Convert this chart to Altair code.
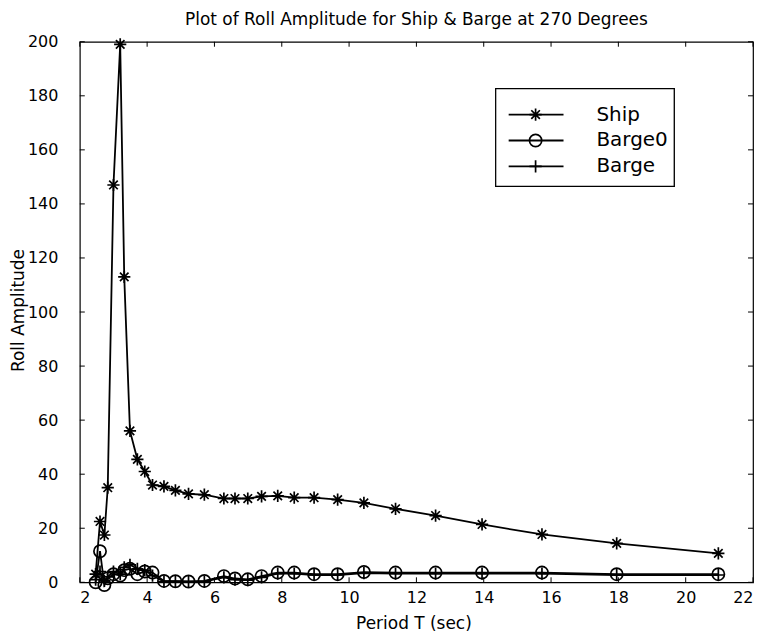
import altair as alt
import pandas as pd

# ---- data ----
periods = [2.47, 2.6, 2.73, 2.83, 3.0, 3.2, 3.32, 3.49, 3.71, 3.93, 4.16, 4.5, 4.84, 5.23, 5.7,
           6.28, 6.61, 6.99, 7.4, 7.88, 8.37, 8.96, 9.66, 10.44, 11.38, 12.57, 13.95, 15.73,
           17.95, 20.97]
ship = [3, 22.5, 17.5, 35, 147, 199, 113, 56, 45.5, 41, 36, 35.5, 34, 32.7, 32.4,
        31, 31, 31, 31.8, 32, 31.3, 31.3, 30.6, 29.4, 27.2, 24.7, 21.4, 17.7, 14.4, 10.7]
barge0 = [0, 11.5, -1, 1.5, 3, 2.5, 4.5, 5, 3, 4, 3.6, 0.5, 0.4, 0.3, 0.5,
          2.3, 1.4, 1.1, 2.3, 3.6, 3.6, 3, 3, 3.8, 3.6, 3.6, 3.6, 3.6, 3, 3]
barge = [1, 4, 0.5, 2, 4, 3, 5.5, 6.5, 5, 4.5, 2.5, 0.3, 0.3, 0.2, 0.3,
         1.8, 1.0, 0.8, 1.8, 3.2, 3.2, 2.7, 2.7, 3.4, 3.2, 3.2, 3.2, 3.2, 2.7, 2.7]
series_names = ["Ship", "Barge0", "Barge"]
x_ticks = [2, 4, 6, 8, 10, 12, 14, 16, 18, 20, 22]
y_ticks = [0, 20, 40, 60, 80, 100, 120, 140, 160, 180, 200]

rows = []
for name, vals in zip(series_names, [ship, barge0, barge]):
    for p, v in zip(periods, vals):
        rows.append({"period": p, "amp": v, "series": name})
df = pd.DataFrame(rows)
legend_df = pd.DataFrame({"series": series_names})
xt_df = pd.DataFrame({"period": x_ticks})
yt_df = pd.DataFrame({"amp": y_ticks})

FONT = "DejaVu Sans"
W, H, TK = 675, 542, 5
shape_paths = [
    "M-1,0L1,0M0,-1L0,1M-0.7,-0.7L0.7,0.7M-0.7,0.7L0.7,-0.7",
    "circle",
    "M-1,0L1,0M0,-1L0,1",
]
shape_scale = alt.Scale(domain=series_names, range=shape_paths)
xs = alt.Scale(domain=[2, 22], nice=False)
ys = alt.Scale(domain=[0, 200], nice=False)

base = alt.Chart(df)

axis_common = dict(grid=False, domain=False, ticks=False, tickSize=0,
                   labelColor="black", labelFont=FONT, labelFontSize=16,
                   titleFont=FONT, titleFontWeight="normal", titleColor="black",
                   titleFontSize=17, titleBaseline="middle")

lines = base.mark_line(color="black", strokeWidth=1.8).encode(
    x=alt.X("period:Q", scale=xs,
            axis=alt.Axis(values=x_ticks, title="Period T (sec)", labelPadding=7,
                          titleX=W / 2 - 3, titleY=41, **axis_common)),
    y=alt.Y("amp:Q", scale=ys,
            axis=alt.Axis(values=y_ticks, title="Roll Amplitude", labelPadding=22,
                          titleX=-61, titleY=H / 2 - 2, **axis_common)),
    detail="series:N",
)

points = base.mark_point(filled=False, color="black", strokeWidth=1.7, size=150, opacity=1).encode(
    x=alt.X("period:Q", scale=xs),
    y=alt.Y("amp:Q", scale=ys),
    shape=alt.Shape("series:N", scale=shape_scale, legend=None),
)

# inward ticks on all four sides (MATLAB style box)
xtb = alt.Chart(xt_df)
ytb = alt.Chart(yt_df)
tick_layers = [
    xtb.mark_rule(color="black", strokeWidth=1).encode(
        x=alt.X("period:Q", scale=xs), y=alt.value(H - TK), y2=alt.value(H)),
    xtb.mark_rule(color="black", strokeWidth=1).encode(
        x=alt.X("period:Q", scale=xs), y=alt.value(0), y2=alt.value(TK)),
    ytb.mark_rule(color="black", strokeWidth=1).encode(
        y=alt.Y("amp:Q", scale=ys), x=alt.value(0), x2=alt.value(TK)),
    ytb.mark_rule(color="black", strokeWidth=1).encode(
        y=alt.Y("amp:Q", scale=ys), x=alt.value(W - TK), x2=alt.value(W)),
]

# ---- legend box (inside plot, top right) ----
lbase = alt.Chart(legend_df)
box = lbase.mark_rect(fill="white", stroke="black", strokeWidth=1.2).encode(
    x=alt.value(417), x2=alt.value(596), y=alt.value(47), y2=alt.value(145)
)
legend_layers = [box]
for i, name in enumerate(series_names):
    yv = alt.value(73 + 26 * i)
    sub = lbase.transform_filter(alt.datum.series == name)
    legend_layers.append(sub.mark_rule(color="black", strokeWidth=1.8).encode(
        x=alt.value(430), x2=alt.value(485), y=yv))
    legend_layers.append(sub.mark_point(filled=False, color="black", strokeWidth=1.7, size=150,
                                        opacity=1, shape=shape_paths[i]).encode(
        x=alt.value(457), y=yv))
    legend_layers.append(sub.mark_text(align="left", baseline="middle", font=FONT, fontSize=20,
                                       color="black").encode(
        x=alt.value(518), y=yv, text="series:N"))

chart = alt.layer(lines, points, *tick_layers, *legend_layers).properties(
    width=W, height=H,
    title=alt.TitleParams("Plot of Roll Amplitude for Ship & Barge at 270 Degrees",
                          font=FONT, fontSize=17, fontWeight="normal", color="black",
                          anchor="middle", offset=5),
    autosize=alt.AutoSizeParams(type="none"),
    padding={"left": 72, "top": 33, "right": 5, "bottom": 50},
).configure_view(stroke="black", strokeWidth=1.2)

chart.save("out.html", embed_options={"renderer": "svg", "actions": False})
